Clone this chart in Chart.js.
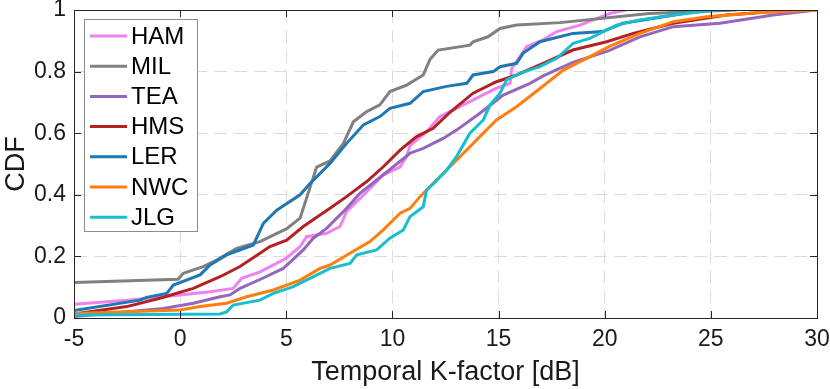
<!DOCTYPE html>
<html>
<head>
<meta charset="utf-8">
<script src="https://cdn.jsdelivr.net/npm/chart.js@4.4.1/dist/chart.umd.min.js"></script>
<style>
  html, body { margin: 0; padding: 0; background: #fff; }
  #wrap { width: 830px; height: 389px; }
</style>
</head>
<body>
<div id="wrap"><canvas id="cdf-chart" width="830" height="389"></canvas></div>
<script>
// Axis ticks
const xTicks = [-5, 0, 5, 10, 15, 20, 25, 30];
const yTicks = [0, 0.2, 0.4, 0.6, 0.8, 1];

// Series names (legend order)
const seriesNames = ['HAM', 'MIL', 'TEA', 'HMS', 'LER', 'NWC', 'JLG'];

// CDF curves: K-factor [dB] and CDF value
const hamX = [-5, -2.5, 0, 1.4, 2.5, 2.9, 3.76, 5.0, 5.65, 5.96, 6.9, 7.53, 7.84, 8.79, 9.57, 10.36, 10.67, 10.83, 11.61, 12.24, 12.86, 13.8, 14.9, 15.54, 15.62, 16.0, 16.32, 17.1, 17.74, 18.83, 20.25, 21.03];
const hamY = [0.045, 0.058, 0.075, 0.085, 0.096, 0.129, 0.15, 0.194, 0.232, 0.264, 0.275, 0.297, 0.345, 0.41, 0.465, 0.49, 0.525, 0.56, 0.605, 0.654, 0.675, 0.708, 0.746, 0.762, 0.81, 0.848, 0.881, 0.903, 0.93, 0.951, 0.989, 1.0];

const milX = [-5, -0.1, 0.15, 1.09, 1.72, 2.66, 3.76, 5.02, 5.65, 5.96, 6.43, 7.06, 7.69, 8.16, 8.79, 9.41, 9.88, 10.67, 11.45, 11.77, 12.16, 13.65, 13.8, 14.5, 15.07, 15.85, 17.9, 22.1, 26.2];
const milY = [0.115, 0.126, 0.145, 0.167, 0.188, 0.226, 0.248, 0.29, 0.324, 0.39, 0.49, 0.51, 0.567, 0.637, 0.67, 0.692, 0.735, 0.756, 0.789, 0.84, 0.87, 0.886, 0.897, 0.913, 0.94, 0.951, 0.959, 0.989, 1.0];

const teaX = [-5, -0.79, 0.62, 1.88, 2.35, 2.82, 3.76, 4.86, 5.8, 6.27, 6.9, 7.84, 8.47, 9.26, 10.04, 10.83, 11.45, 12.39, 13.02, 14.12, 15.22, 16.48, 17.1, 18.5, 20.2, 21.66, 23.23, 25.43, 27.94, 30];
const teaY = [0.005, 0.031, 0.048, 0.069, 0.075, 0.096, 0.125, 0.161, 0.221, 0.259, 0.291, 0.356, 0.405, 0.448, 0.491, 0.535, 0.551, 0.583, 0.61, 0.665, 0.724, 0.762, 0.786, 0.83, 0.868, 0.913, 0.946, 0.957, 0.984, 1.0];

const hmsX = [-5, -2.52, -0.95, 0.62, 1.88, 2.82, 3.76, 4.23, 5.02, 5.8, 7.06, 7.84, 8.79, 9.57, 10.36, 11.14, 11.92, 12.71, 13.8, 14.9, 15.85, 17.1, 18.5, 20.09, 21.35, 23.23, 25.74, 29];
const hmsY = [0.013, 0.037, 0.064, 0.096, 0.134, 0.167, 0.21, 0.232, 0.253, 0.297, 0.356, 0.394, 0.443, 0.491, 0.545, 0.589, 0.616, 0.668, 0.73, 0.767, 0.789, 0.827, 0.87, 0.897, 0.924, 0.957, 0.984, 1.0];

const lerX = [-5, -1.89, -1.58, -0.63, -0.32, 0.94, 1.41, 2.19, 3.45, 3.92, 4.55, 5.65, 6.12, 7.06, 7.84, 8.63, 9.41, 9.88, 10.83, 11.45, 12.55, 13.5, 13.8, 14.75, 15.07, 15.85, 16.16, 16.95, 18.5, 19.9, 20.85, 23.86];
const lerY = [0.024, 0.058, 0.067, 0.08, 0.107, 0.14, 0.172, 0.205, 0.237, 0.307, 0.35, 0.4, 0.437, 0.502, 0.567, 0.627, 0.654, 0.681, 0.697, 0.735, 0.752, 0.762, 0.789, 0.8, 0.816, 0.827, 0.86, 0.897, 0.924, 0.93, 0.957, 0.99];

const nwcX = [-5, 0, 0.94, 2.19, 3.13, 4.39, 5.65, 6.59, 7.06, 8.0, 8.94, 9.57, 10.36, 10.83, 11.3, 11.92, 13.1, 14.12, 14.9, 15.85, 16.95, 18.05, 19.15, 20.2, 21.66, 23.23, 24.8, 27.15, 30];
const nwcY = [0.015, 0.026, 0.037, 0.048, 0.069, 0.091, 0.123, 0.161, 0.172, 0.21, 0.248, 0.286, 0.34, 0.356, 0.394, 0.437, 0.518, 0.589, 0.643, 0.686, 0.745, 0.805, 0.843, 0.881, 0.924, 0.962, 0.978, 0.991, 1.0];

const jlgX = [-5, 1.88, 2.19, 2.5, 3.76, 4.39, 5.33, 6.59, 7.06, 8.0, 8.32, 9.26, 9.88, 10.51, 10.83, 11.45, 11.61, 11.92, 12.55, 13.02, 13.65, 14.28, 14.6, 15.07, 15.38, 16.0, 16.95, 17.74, 18.52, 19.3, 20.56, 21.66, 23.23, 25.27];
const jlgY = [0.01, 0.013, 0.02, 0.042, 0.058, 0.08, 0.102, 0.145, 0.161, 0.177, 0.205, 0.221, 0.259, 0.286, 0.329, 0.361, 0.416, 0.435, 0.48, 0.524, 0.6, 0.643, 0.692, 0.73, 0.773, 0.794, 0.816, 0.843, 0.892, 0.908, 0.951, 0.968, 0.984, 1.0];

const seriesX = [hamX, milX, teaX, hmsX, lerX, nwcX, jlgX];
const seriesY = [hamY, milY, teaY, hmsY, lerY, nwcY, jlgY];
const seriesColors = ['#EE82EE', '#808080', '#9467BD', '#B22222', '#1F77B4', '#FF7F0E', '#17BECF'];

const FONT = 'Liberation Sans, Arial, Helvetica, sans-serif';
const INK = '#1a1a1a';

function toPoints(xs, ys) {
    return xs.map((x, i) => ({ x: x, y: ys[i] }));
}

// Box around the plot with inward tick marks (MATLAB style)
const axesBox = {
    id: 'axesBox',
    afterDatasetsDraw(chart) {
        const { ctx, chartArea: a, scales } = chart;
        const tick = 7;
        ctx.save();
        ctx.strokeStyle = '#262626';
        ctx.lineWidth = 1;
        ctx.beginPath();
        scales.x.ticks.forEach(t => {
            const px = Math.round(scales.x.getPixelForValue(t.value)) + 0.5;
            ctx.moveTo(px, a.bottom); ctx.lineTo(px, a.bottom - tick);
            ctx.moveTo(px, a.top); ctx.lineTo(px, a.top + tick);
        });
        scales.y.ticks.forEach(t => {
            const py = Math.round(scales.y.getPixelForValue(t.value)) + 0.5;
            ctx.moveTo(a.left, py); ctx.lineTo(a.left + tick, py);
            ctx.moveTo(a.right, py); ctx.lineTo(a.right - tick, py);
        });
        ctx.stroke();
        ctx.strokeRect(Math.round(a.left) + 0.5, Math.round(a.top) + 0.5,
            Math.round(a.right - a.left), Math.round(a.bottom - a.top));
        ctx.restore();
    }
};

// Legend box in the upper-left corner of the plot
const insetLegend = {
    id: 'insetLegend',
    afterDraw(chart) {
        const { ctx, chartArea: a } = chart;
        const x0 = a.left + 10, y0 = a.top + 9;
        const w = 113, rowH = 30.2, h = 212;
        ctx.save();
        ctx.fillStyle = '#fff';
        ctx.fillRect(x0, y0, w, h);
        ctx.strokeStyle = '#8c8c8c';
        ctx.lineWidth = 1;
        ctx.strokeRect(Math.round(x0) + 0.5, Math.round(y0) + 0.5, w, h);
        ctx.font = '24px ' + FONT;
        ctx.textBaseline = 'middle';
        ctx.textAlign = 'left';
        chart.data.datasets.forEach((ds, i) => {
            const cy = y0 + 17 + i * rowH;
            ctx.strokeStyle = ds.borderColor;
            ctx.lineWidth = 3;
            ctx.beginPath();
            ctx.moveTo(x0 + 6, cy);
            ctx.lineTo(x0 + 43, cy);
            ctx.stroke();
            ctx.fillStyle = '#000';
            ctx.fillText(ds.label, x0 + 47, cy + 1);
        });
        ctx.restore();
    }
};

const datasets = seriesNames.map((name, i) => ({
    label: name,
    data: toPoints(seriesX[i], seriesY[i]),
    borderColor: seriesColors[i],
    backgroundColor: seriesColors[i],
    borderWidth: 3,
    pointRadius: 0,
    fill: false,
    tension: 0,
    order: seriesNames.length - i
}));

const ctx = document.getElementById('cdf-chart').getContext('2d');
new Chart(ctx, {
    type: 'line',
    data: { datasets: datasets },
    options: {
        responsive: false,
        animation: false,
        devicePixelRatio: 1,
        layout: { padding: { top: 10, right: 13, left: 0, bottom: 0 } },
        plugins: {
            legend: { display: false },
            tooltip: { enabled: false }
        },
        scales: {
            x: {
                type: 'linear',
                min: -5,
                max: 30,
                afterBuildTicks: s => { s.ticks = xTicks.map(v => ({ value: v })); },
                afterFit: s => { s.height = 71; s.paddingLeft = 0; s.paddingRight = 0; },
                grid: { color: '#dcdcdc', lineWidth: 1, drawTicks: false },
                border: { display: false, dash: [13, 7] },
                ticks: { color: INK, font: { family: FONT, size: 23 }, padding: 8, maxRotation: 0 },
                title: { display: true, text: 'Temporal K-factor [dB]', color: INK, font: { family: FONT, size: 27 }, padding: 0 }
            },
            y: {
                min: 0,
                max: 1,
                afterBuildTicks: s => { s.ticks = yTicks.map(v => ({ value: v })); },
                afterFit: s => { s.width = 74; s.paddingTop = 0; s.paddingBottom = 0; },
                grid: { color: '#dcdcdc', lineWidth: 1, drawTicks: false },
                border: { display: false, dash: [13, 7] },
                ticks: { color: INK, font: { family: FONT, size: 23 }, padding: 8, callback: v => String(v) },
                title: { display: true, text: 'CDF', color: INK, font: { family: FONT, size: 27 }, padding: 0 }
            }
        }
    },
    plugins: [axesBox, insetLegend]
});
</script>
</body>
</html>
